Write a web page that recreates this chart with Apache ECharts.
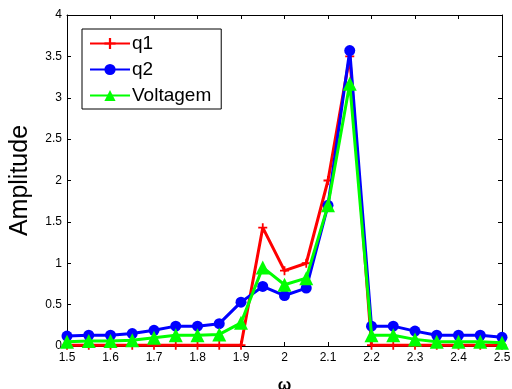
<!DOCTYPE html>
<html lang="en">
<head>
    <meta charset="UTF-8">
    <title>Amplitude</title>
    <script src="https://cdn.jsdelivr.net/npm/echarts@6/dist/echarts.min.js"></script>
    <style>
        html, body { margin: 0; padding: 0; background: #fff; }
        #chart1 { width: 512px; height: 389px; }
    </style>
</head>
<body>
<div id="chart1"></div>
<script>
    // frequencias (omega) e amplitudes
    var omega = [1.5, 1.55, 1.6, 1.65, 1.7, 1.75, 1.8, 1.85, 1.9, 1.95, 2.0,
                 2.05, 2.1, 2.15, 2.2, 2.25, 2.3, 2.35, 2.4, 2.45, 2.5];
    var q1 = [0.01, 0.01, 0.01, 0.01, 0.01, 0.01, 0.01, 0.01, 0.01, 1.43, 0.91,
              1.0, 2.0, 3.5, 0.01, 0.01, 0.01, 0.01, 0.01, 0.01, 0.01];
    var q2 = [0.12, 0.13, 0.13, 0.15, 0.19, 0.24, 0.24, 0.27, 0.53, 0.72, 0.61,
              0.70, 1.70, 3.57, 0.24, 0.24, 0.18, 0.13, 0.13, 0.13, 0.105];
    var voltagem = [0.05, 0.06, 0.06, 0.07, 0.10, 0.13, 0.13, 0.14, 0.28, 0.95, 0.74,
                    0.82, 1.70, 3.17, 0.13, 0.13, 0.08, 0.05, 0.05, 0.05, 0.04];

    var font = 'Liberation Sans, Arial, sans-serif';
    var plusPath = 'path://M4,0H6V4H10V6H6V10H4V6H0V4H4Z';

    function pairs(ys) {
        return omega.map(function (x, i) { return [x, ys[i]]; });
    }

    function fmt(v) {
        return String(+v.toFixed(2));
    }

    var axisBase = {
        axisLine: { show: true, onZero: false, lineStyle: { color: '#000', width: 1 } },
        axisTick: { show: true, inside: true, length: 4, lineStyle: { color: '#000' } },
        splitLine: { show: false }
    };

    var ctx1 = echarts.init(document.getElementById('chart1'));

    ctx1.setOption({
        animation: false,
        backgroundColor: '#fff',
        textStyle: { fontFamily: font },
        grid: { left: 67, right: 10, top: 15, bottom: 43, outerBoundsMode: 'none', containLabel: false },
        legend: {
            left: 82, top: 29,
            orient: 'vertical',
            backgroundColor: '#fff',
            borderColor: '#000',
            borderWidth: 1,
            borderRadius: 0,
            padding: [5, 10, 4, 7],
            itemWidth: 40,
            itemHeight: 14,
            itemGap: 7,
            textStyle: { fontFamily: font, fontSize: 19, color: '#000', padding: [0, 0, 0, -3] },
            data: ['q1', 'q2', 'Voltagem']
        },
        xAxis: [
            Object.assign({}, axisBase, {
                type: 'value', min: 1.5, max: 2.5, interval: 0.1,
                name: 'ω', nameLocation: 'middle', nameGap: 32,
                nameTextStyle: { fontFamily: font, fontSize: 16, fontWeight: 'bold', color: '#000' },
                axisLabel: { color: '#000', fontSize: 12, fontFamily: font, margin: 6, formatter: fmt }
            }),
            Object.assign({}, axisBase, {
                type: 'value', min: 1.5, max: 2.5, interval: 0.1, position: 'top',
                axisLabel: { show: false }
            })
        ],
        yAxis: [
            Object.assign({}, axisBase, {
                type: 'value', min: 0, max: 4, interval: 0.5,
                name: 'Amplitude', nameLocation: 'middle', nameGap: 34,
                nameTextStyle: { fontFamily: font, fontSize: 25, color: '#000' },
                axisLabel: { color: '#000', fontSize: 12, fontFamily: font, margin: 5, formatter: fmt }
            }),
            Object.assign({}, axisBase, {
                type: 'value', min: 0, max: 4, interval: 0.5, position: 'right',
                axisLabel: { show: false }
            })
        ],
        series: [
            {
                name: 'q1', type: 'line', data: pairs(q1),
                color: '#ff0000',
                lineStyle: { width: 3 },
                symbol: plusPath, symbolSize: 9, showAllSymbol: true,
                itemStyle: { color: '#ff0000' },
                z: 2
            },
            {
                name: 'q2', type: 'line', data: pairs(q2),
                color: '#0000ff',
                lineStyle: { width: 3 },
                symbol: 'circle', symbolSize: 11, showAllSymbol: true,
                itemStyle: { color: '#0000ff' },
                z: 3
            },
            {
                name: 'Voltagem', type: 'line', data: pairs(voltagem),
                color: '#00ff00',
                lineStyle: { width: 3 },
                symbol: 'triangle', symbolSize: 14, showAllSymbol: true,
                itemStyle: { color: '#00ff00' },
                z: 4
            }
        ]
    });
</script>
</body>
</html>
